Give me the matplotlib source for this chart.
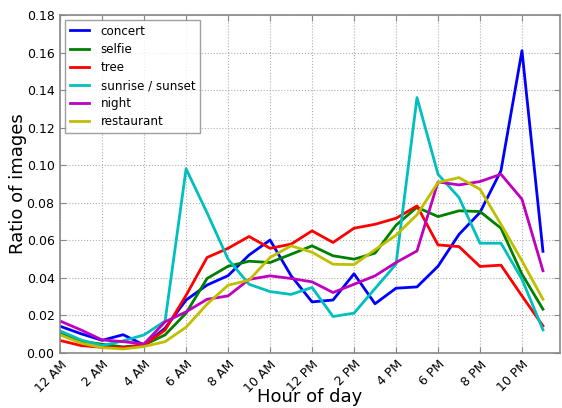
import matplotlib
matplotlib.use("Agg")
import matplotlib.pyplot as plt

hours = list(range(24))
tick_hours = list(range(0, 24, 2))
tick_labels = ["12 AM", "2 AM", "4 AM", "6 AM", "8 AM", "10 AM",
               "12 PM", "2 PM", "4 PM", "6 PM", "8 PM", "10 PM"]

concert = [0.014, 0.010, 0.0065, 0.0095, 0.004, 0.013, 0.028, 0.036, 0.041, 0.052, 0.060, 0.041,
           0.027, 0.028, 0.042, 0.026, 0.0343, 0.035, 0.046, 0.063, 0.0747, 0.097, 0.161, 0.054]
selfie = [0.010, 0.006, 0.0044, 0.003, 0.004, 0.0094, 0.021, 0.0395, 0.046, 0.0487, 0.048, 0.0524,
          0.0569, 0.0516, 0.0498, 0.053, 0.0679, 0.0775, 0.0725, 0.0756, 0.0752, 0.0663, 0.0418, 0.0231]
tree = [0.0064, 0.0037, 0.0028, 0.0026, 0.004, 0.012, 0.0305, 0.0507, 0.0556, 0.0619, 0.0556, 0.0578,
        0.0649, 0.0587, 0.0663, 0.0684, 0.0716, 0.0782, 0.0574, 0.0565, 0.0459, 0.0466, 0.0302, 0.0142]
sunrise_sunset = [0.0115, 0.0067, 0.0037, 0.0062, 0.0094, 0.0168, 0.098, 0.0745, 0.0498, 0.0364, 0.0325, 0.031,
                  0.0347, 0.0192, 0.021, 0.0341, 0.0471, 0.136, 0.0951, 0.0827, 0.0583, 0.0583, 0.0391, 0.0121]
night = [0.0168, 0.012, 0.0067, 0.0058, 0.0046, 0.0164, 0.0217, 0.0284, 0.0302, 0.039, 0.0409, 0.0395,
         0.0377, 0.032, 0.0364, 0.0409, 0.048, 0.0542, 0.091, 0.0894, 0.0912, 0.0951, 0.0818, 0.0436]
restaurant = [0.0094, 0.005, 0.0026, 0.0019, 0.0032, 0.0058, 0.0135, 0.0258, 0.0359, 0.0386, 0.0507, 0.0569,
              0.0535, 0.0471, 0.0469, 0.0548, 0.0626, 0.0735, 0.0907, 0.0933, 0.0871, 0.0684, 0.0489, 0.0284]

series = [("concert", concert, (0.0, 0.0, 1.0)),
          ("selfie", selfie, (0.0, 0.5, 0.0)),
          ("tree", tree, (1.0, 0.0, 0.0)),
          ("sunrise / sunset", sunrise_sunset, (0.0, 0.75, 0.75)),
          ("night", night, (0.75, 0.0, 0.75)),
          ("restaurant", restaurant, (0.75, 0.75, 0.0))]

fig = plt.figure(figsize=(5.62, 4.08), dpi=100)
ax = fig.add_axes([0.107, 0.136, 0.889, 0.827])

for name, vals, col in series:
    ax.plot(hours, vals, color=col, lw=2, label=name)

ax.set_xlim(0, 23.8)
ax.set_ylim(0, 0.18)
ax.set_yticks([0.00, 0.02, 0.04, 0.06, 0.08, 0.10, 0.12, 0.14, 0.16, 0.18])
ax.set_yticklabels(["%.2f" % v for v in ax.get_yticks()], fontsize=9)
ax.set_xticks(tick_hours)
ax.set_xticklabels(tick_labels, rotation=45, ha="right", rotation_mode="anchor", fontsize=9)
ax.grid(True, color="#b0b0b0", linestyle=":", linewidth=0.8)
for s in ax.spines.values():
    s.set_color("#888888")
    s.set_linewidth(1.2)
ax.tick_params(direction="in", length=4, color="#888888", top=True, right=True, pad=4)
ax.set_xlabel("Hour of day", fontsize=13, labelpad=-5)
ax.set_ylabel("Ratio of images", fontsize=13, labelpad=0)

leg = ax.legend(loc="upper left", fontsize=8.6, fancybox=False, handlelength=1.6,
                borderaxespad=0.4, labelspacing=0.43, handletextpad=1.0)
leg.get_frame().set_edgecolor("#888888")
leg.get_frame().set_linewidth(1.0)

fig.savefig("out.png", dpi=100)
